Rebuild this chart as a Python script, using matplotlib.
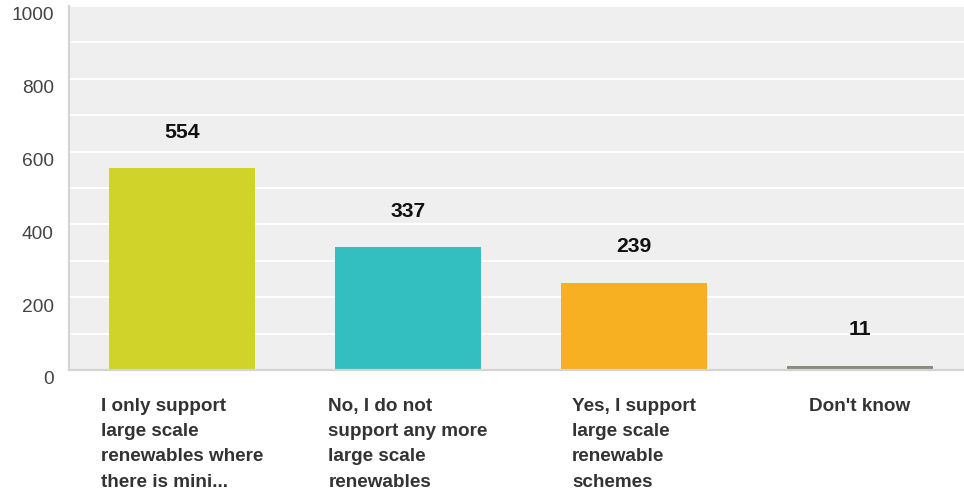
import numpy as np
import matplotlib.pyplot as plt
from matplotlib.transforms import ScaledTranslation

plt.rcParams['font.family'] = ['Liberation Sans', 'DejaVu Sans']

# Chart data
categories = [
    'I only support\nlarge scale\nrenewables where\nthere is mini...',
    'No, I do not\nsupport any more\nlarge scale\nrenewables',
    'Yes, I support\nlarge scale\nrenewable\nschemes',
    "Don't know",
]
values = [554, 337, 239, 11]
colors = ['#d0d42a', '#33bec0', '#f7b022', '#8a8b7c']
y_ticks = [0, 200, 400, 600, 800, 1000]


def main():
  fig = plt.figure(figsize=(9.64, 4.93), dpi=100)
  ax = fig.add_axes([69 / 964, 1 - 370 / 493, 895 / 964, 364 / 493])
  ax.set_facecolor('#efefef')

  x = np.arange(len(values))
  ax.bar(x, values, width=0.646, color=colors, zorder=3)

  for xi, v in zip(x, values):
    ax.annotate(str(v), (xi, v), xytext=(0, 26), textcoords='offset points',
                ha='center', va='center', fontsize=15.2, fontweight='bold',
                color='#111111', zorder=4)

  ax.set_xlim(-0.5, -0.5 + 895 / 226)
  ax.set_ylim(0, 1000)

  # grid every 100, labels every 200
  ax.set_yticks(y_ticks)
  ax.set_yticks(np.arange(100, 1000, 200), minor=True)
  ax.yaxis.grid(True, which='both', color='white', linewidth=1.5, zorder=1)
  ax.tick_params(axis='y', which='both', length=0, pad=11,
                 labelsize=13.8, labelcolor='#444444')
  offset = ScaledTranslation(0, -8 / 100, fig.dpi_scale_trans)
  for lbl in ax.get_yticklabels():
    lbl.set_transform(lbl.get_transform() + offset)

  ax.set_xticks(x)
  ax.set_xticklabels(categories, fontsize=13.6, fontweight='bold',
                     color='#333333', va='top', ha='center',
                     multialignment='left', linespacing=1.64)
  ax.tick_params(axis='x', length=0, pad=20)

  for side in ['top', 'right']:
    ax.spines[side].set_visible(False)
  for side in ['left', 'bottom']:
    ax.spines[side].set_color('#d4d4d4')
    ax.spines[side].set_linewidth(1.6)
    ax.spines[side].set_zorder(5)

  fig.savefig('out.png', dpi=100)


if __name__ == '__main__':
  main()
